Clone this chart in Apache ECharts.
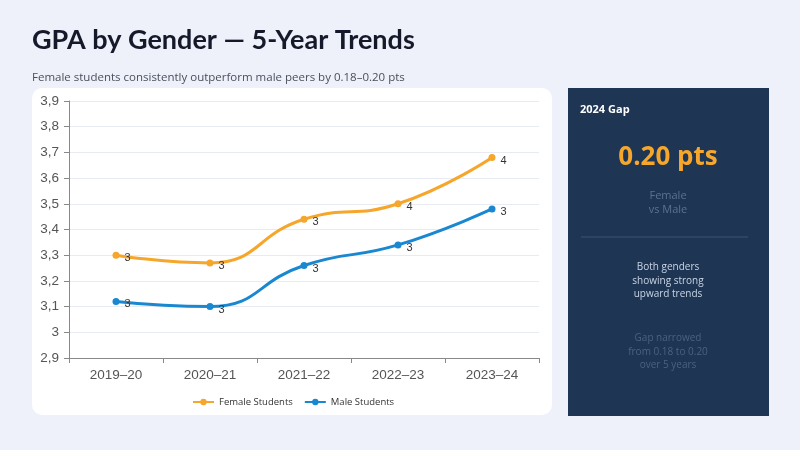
<!DOCTYPE html>
<html>
<head>
<meta charset="utf-8">
<script src="https://cdn.jsdelivr.net/npm/echarts@6/dist/echarts.min.js"></script>
<style>
html,body{margin:0;padding:0;background:#eef1f9;}
#c{width:800px;height:450px;}
</style>
</head>
<body>
<div id="c"></div>
<script>
const categories = ['2019–20','2020–21','2021–22','2022–23','2023–24'];
const femaleGPA = [3.30, 3.27, 3.44, 3.50, 3.68];
const maleGPA = [3.12, 3.10, 3.26, 3.34, 3.48];
const yTicks = [2.9, 3.0, 3.1, 3.2, 3.3, 3.4, 3.5, 3.6, 3.7, 3.8, 3.9];

const chart = echarts.init(document.getElementById('c'));
const fmtTick = v => {
  const r = Math.round(v * 10) / 10;
  return (Number.isInteger(r) ? String(r) : r.toFixed(1)).replace('.', ',');
};
const labelCfg = {
  show: true, position: 'right', distance: 5, offset: [0, 3],
  color: '#333', fontSize: 11, fontFamily: 'Liberation Sans, Arial, sans-serif',
  formatter: p => String(Math.round(p.value))
};
chart.setOption({
  backgroundColor: '#eef1f9',
  animation: false,
  title: [{
    text: 'GPA by Gender — 5-Year Trends',
    left: 27, top: 22,
    textStyle: {fontSize: 27, fontWeight: 'bold', color: '#15192a', fontFamily: 'Lato, sans-serif'}
  },{
    text: 'Female students consistently outperform male peers by 0.18–0.20 pts',
    left: 27, top: 67,
    textStyle: {fontSize: 11.5, fontWeight: 'normal', color: '#4a4f5c', fontFamily: 'Open Sans, sans-serif'}
  }],
  graphic: [
    {type: 'rect', z: -10, shape: {x: 32, y: 88, width: 520, height: 327, r: 10}, style: {fill: '#ffffff'}},
    {type: 'rect', z: -10, shape: {x: 568, y: 88, width: 201, height: 328}, style: {fill: '#1e3553'}},
    {type: 'text', left: 580, top: 104, style: {text: '2024 Gap', fill: '#ffffff', font: 'bold 11px "Open Sans", sans-serif'}},
    {type: 'text', x: 668, y: 158, style: {text: '0.20 pts', fill: '#f5a62b', font: 'bold 26px "Open Sans", sans-serif', textAlign: 'center', textVerticalAlign: 'middle'}},
    {type: 'text', x: 668, y: 203, style: {text: 'Female\nvs Male', fill: '#5b7290', font: '11px "Open Sans", sans-serif', textAlign: 'center', textVerticalAlign: 'middle', lineHeight: 14}},
    {type: 'line', shape: {x1: 581, y1: 237, x2: 748, y2: 237}, style: {stroke: '#3d5576', lineWidth: 1}},
    {type: 'text', x: 668, y: 281, style: {text: 'Both genders\nshowing strong\nupward trends', fill: '#c9d5e6', font: '10px "Open Sans", sans-serif', textAlign: 'center', textVerticalAlign: 'middle', lineHeight: 13.5}},
    {type: 'text', x: 668, y: 352, style: {text: 'Gap narrowed\nfrom 0.18 to 0.20\nover 5 years', fill: '#4b6283', font: '10px "Open Sans", sans-serif', textAlign: 'center', textVerticalAlign: 'middle', lineHeight: 13.5}}
  ],
  legend: {
    left: 187, top: 392,
    itemWidth: 21, itemHeight: 8, itemGap: 11,
    textStyle: {fontSize: 9.5, color: '#333', fontFamily: 'Open Sans, sans-serif'},
    data: ['Female Students', 'Male Students']
  },
  grid: {left: 69, right: 261, top: 101, bottom: 92},
  xAxis: {
    type: 'category', data: categories, boundaryGap: true,
    axisLine: {lineStyle: {color: '#888'}},
    axisTick: {show: true, lineStyle: {color: '#888'}},
    axisLabel: {color: '#555', fontSize: 13.5, margin: 10, fontFamily: 'Liberation Sans, Arial, sans-serif'}
  },
  yAxis: {
    type: 'value', min: yTicks[0], max: yTicks[yTicks.length - 1], interval: 0.1,
    axisLine: {show: true, lineStyle: {color: '#888'}},
    axisTick: {show: true, lineStyle: {color: '#888'}},
    axisLabel: {color: '#555', fontSize: 13.5, margin: 10, fontFamily: 'Liberation Sans, Arial, sans-serif', formatter: fmtTick},
    splitLine: {lineStyle: {color: '#e8ebf1'}}
  },
  series: [{
    name: 'Female Students', type: 'line', data: femaleGPA, smooth: 0.5,
    symbol: 'circle', symbolSize: 7,
    itemStyle: {color: '#f5a62b'}, lineStyle: {width: 3, color: '#f5a62b'},
    label: labelCfg
  },{
    name: 'Male Students', type: 'line', data: maleGPA, smooth: 0.5,
    symbol: 'circle', symbolSize: 7,
    itemStyle: {color: '#1a88d0'}, lineStyle: {width: 3, color: '#1a88d0'},
    label: labelCfg
  }]
});
</script>
</body>
</html>
